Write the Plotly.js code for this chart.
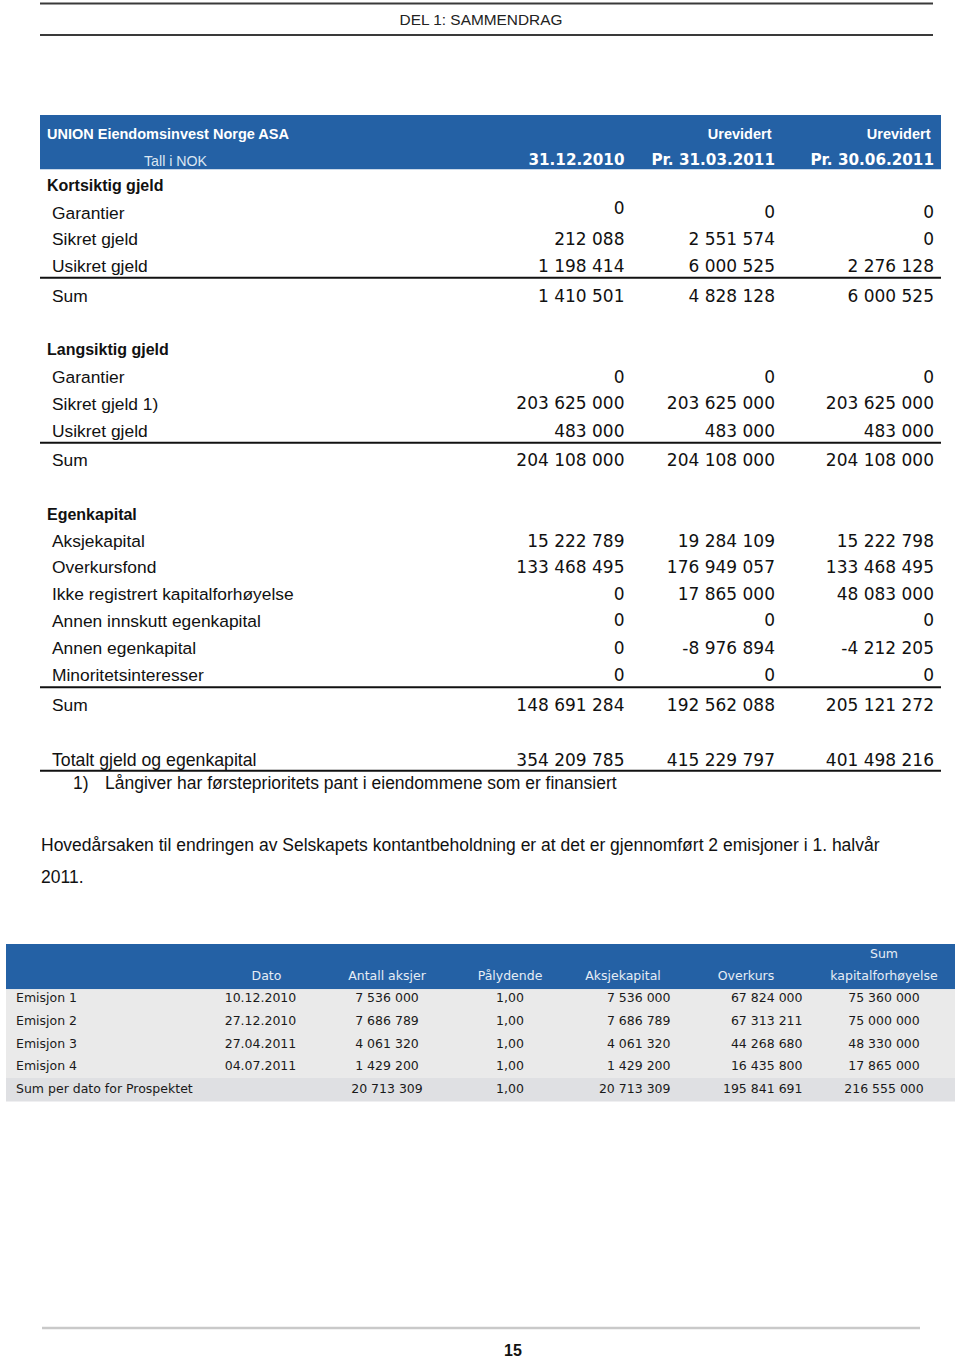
<!DOCTYPE html>
<html><head><meta charset="utf-8">
<script src="https://cdn.plot.ly/plotly-3.0.1.min.js"></script>
<style>html,body{margin:0;padding:0;background:#fff}#chart{width:960px;height:1360px}</style>
</head><body><div id="chart"></div>
<script>
// ---------------- DATA ----------------
const pageHeader = 'DEL 1: SAMMENDRAG';
const pageNumber = '15';
const companyName = 'UNION Eiendomsinvest Norge ASA';
const unitLabel = 'Tall i NOK';
const periodLabels = ['31.12.2010', 'Pr. 31.03.2011', 'Pr. 30.06.2011'];
const auditLabels = ['', 'Urevidert', 'Urevidert'];

const kortsiktigTitle = 'Kortsiktig gjeld';
const kortsiktigLabels = ['Garantier', 'Sikret gjeld', 'Usikret gjeld'];
const kortsiktigValues = [[0, 0, 0], [212088, 2551574, 0], [1198414, 6000525, 2276128]];
const kortsiktigSum = [1410501, 4828128, 6000525];

const langsiktigTitle = 'Langsiktig gjeld';
const langsiktigLabels = ['Garantier', 'Sikret gjeld 1)', 'Usikret gjeld'];
const langsiktigValues = [[0, 0, 0], [203625000, 203625000, 203625000], [483000, 483000, 483000]];
const langsiktigSum = [204108000, 204108000, 204108000];

const egenkapitalTitle = 'Egenkapital';
const egenkapitalLabels = ['Aksjekapital', 'Overkursfond', 'Ikke registrert kapitalforhøyelse',
  'Annen innskutt egenkapital', 'Annen egenkapital', 'Minoritetsinteresser'];
const egenkapitalValues = [[15222789, 19284109, 15222798], [133468495, 176949057, 133468495],
  [0, 17865000, 48083000], [0, 0, 0], [0, -8976894, -4212205], [0, 0, 0]];
const egenkapitalSum = [148691284, 192562088, 205121272];

const sumLabel = 'Sum';
const totalLabel = 'Totalt gjeld og egenkapital';
const totalValues = [354209785, 415229797, 401498216];
const footnoteMark = '1)';
const footnoteText = 'Långiver har førsteprioritets pant i eiendommene som er finansiert';
const paragraphLines = ['Hovedårsaken til endringen av Selskapets kontantbeholdning er at det er gjennomført 2 emisjoner i 1. halvår', '2011.'];

// Table 2
const emisjonHeaderTop = ['', '', '', '', '', 'Sum'];
const emisjonHeaderBottom = ['Dato', 'Antall aksjer', 'Pålydende', 'Aksjekapital', 'Overkurs', 'kapitalforhøyelse'];
const emisjonNames = ['Emisjon 1', 'Emisjon 2', 'Emisjon 3', 'Emisjon 4'];
const emisjonDates = ['10.12.2010', '27.12.2010', '27.04.2011', '04.07.2011'];
const antallAksjer = [7536000, 7686789, 4061320, 1429200];
const palydende = [1, 1, 1, 1];
const emisjonAksjekapital = [7536000, 7686789, 4061320, 1429200];
const overkurs = [67824000, 67313211, 44268680, 16435800];
const sumKapitalforhoyelse = [75360000, 75000000, 48330000, 17865000];
const sumRowLabel = 'Sum per dato for Prospektet';
const sumRowValues = [20713309, 1, 20713309, 195841691, 216555000];

// ---------------- FORMAT ----------------
const fmt = n => (n < 0 ? '-' : '') + Math.abs(n).toString().replace(/\B(?=(\d{3})+(?!\d))/g, ' ');
const fmtDec = n => n.toFixed(2).replace('.', ',');

// ---------------- LAYOUT POSITIONS ----------------
const LAB = 'Liberation Sans, Arial, sans-serif';
const LABB = 'Liberation Sans, Arial, sans-serif';
const NUM = 'DejaVu Sans, sans-serif';
const T2 = 'DejaVu Sans, Verdana, sans-serif';
const valueRight = [624.5, 775, 934];
const labelX = 52, sectionX = 47;
const blue = '#2461a5';
const LS = 17.4;

const traces = [];
const shapes = [];
function txt(xs, ys, texts, pos, family, size, color, weight) {
  traces.push({
    type: 'scatter', mode: 'text', x: xs, y: ys.map(y => y + 0.11 * size), text: texts,
    textposition: pos, cliponaxis: false, hoverinfo: 'skip',
    textfont: {family: family, size: size, color: color, weight: weight || 'normal'}
  });
}
function hline(x0, x1, y, color, w) {
  shapes.push({type: 'line', xref: 'x', yref: 'y', x0: x0, x1: x1, y0: y, y1: y, line: {color: color, width: w}});
}
function rect(x0, x1, y0, y1, color) {
  shapes.push({type: 'rect', xref: 'x', yref: 'y', x0: x0, x1: x1, y0: y0, y1: y1, fillcolor: color, line: {width: 0}, layer: 'below'});
}

// page header / footer
hline(40, 933, 3.5, '#3a3a3a', 2);
hline(40, 933, 35, '#3a3a3a', 2);
txt([481], [19.5], [pageHeader], 'middle center', LAB, 15.4, '#222');
hline(42, 920, 1328, '#c9c9c9', 2.5);
txt([513], [1350.5], [pageNumber], 'middle center', LABB, 16, '#111', 'bold');

// table 1 header
rect(40, 941, 115, 169.3, blue);
txt([47], [133.5], [companyName], 'middle right', LABB, 14.5, '#ffffff', 'bold');
txt(valueRight.map(v => v - 3.5), auditLabels.map(() => 133.7), auditLabels, 'middle left', LABB, 14.5, '#ffffff', 'bold');
txt([144], [160.5], [unitLabel], 'middle right', LAB, 14.2, '#dbe6f2');
txt(valueRight, periodLabels.map(() => 159.7), periodLabels, 'middle left', NUM, 15.2, '#ffffff', 'bold');

function section(title, titleY, labels, values, rowYs, lineY, sums, sumY, cellShift) {
  txt([sectionX], [titleY], [title], 'middle right', LABB, 16, '#111', 'bold');
  txt(labels.map(() => labelX), rowYs, labels, 'middle right', LAB, LS, '#111');
  for (let c = 0; c < 3; c++) {
    const ys = rowYs.map((y, r) => y + ((cellShift && cellShift[r] && cellShift[r][c]) || 0));
    txt(values.map(() => valueRight[c]), ys, values.map(r => fmt(r[c])), 'middle left', NUM, 17, '#111');
  }
  hline(40, 941, lineY, '#111', 2);
  txt([labelX], [sumY], [sumLabel], 'middle right', LAB, LS, '#111');
  txt(valueRight, sums.map(() => sumY), sums.map(fmt), 'middle left', NUM, 17, '#111');
}

section(kortsiktigTitle, 185, kortsiktigLabels, kortsiktigValues, [212.3, 238.8, 266], 277.7,
  kortsiktigSum, 296, [[-4.5, 0, 0]]);
section(langsiktigTitle, 349.7, langsiktigLabels, langsiktigValues, [376.7, 403.3, 430.5], 442.7,
  langsiktigSum, 459.8);
section(egenkapitalTitle, 514.2, egenkapitalLabels, egenkapitalValues,
  [540.8, 567.2, 593.7, 620.3, 647.8, 675], 687.3, egenkapitalSum, 704.5);

txt([labelX], [759.5], [totalLabel], 'middle right', LAB, 17.7, '#111');
txt(valueRight, totalValues.map(() => 759.5), totalValues.map(fmt), 'middle left', NUM, 17, '#111');
hline(40, 941, 770.7, '#111', 2);
txt([73], [782.5], [footnoteMark], 'middle right', LAB, 17.5, '#111');
txt([105], [782.5], [footnoteText], 'middle right', LAB, 17.5, '#111');
txt([41, 41], [845, 877], paragraphLines, 'middle right', LAB, 17.5, '#111');

// table 2
rect(6, 955, 944, 989.3, blue);
rect(6, 955, 989.3, 1078, '#eaeaea');
rect(6, 955, 1078, 1101.5, '#dfe0e3');
const headerX = [266.5, 387, 510, 623, 746, 884];
txt(headerX, headerX.map(() => 953.3), emisjonHeaderTop, 'middle center', T2, 12.5, '#e6edf5');
txt(headerX, headerX.map(() => 975.3), emisjonHeaderBottom, 'middle center', T2, 12.5, '#e6edf5');
const rowY2 = [997.7, 1020.3, 1043, 1065.7];
const sumY2 = 1088.3;
const dark = '#1a1a1a';
txt(emisjonNames.map(() => 16).concat([16]), rowY2.concat([sumY2]), emisjonNames.concat([sumRowLabel]), 'middle right', T2, 12.5, dark);
txt(emisjonDates.map(() => 260.5), rowY2, emisjonDates, 'middle center', T2, 12.5, dark);
txt(antallAksjer.map(() => 387).concat([387]), rowY2.concat([sumY2]), antallAksjer.concat([sumRowValues[0]]).map(fmt), 'middle center', T2, 12.5, dark);
txt(palydende.map(() => 510).concat([510]), rowY2.concat([sumY2]), palydende.concat([sumRowValues[1]]).map(fmtDec), 'middle center', T2, 12.5, dark);
txt(emisjonAksjekapital.map(() => 670.5).concat([670.5]), rowY2.concat([sumY2]), emisjonAksjekapital.concat([sumRowValues[2]]).map(fmt), 'middle left', T2, 12.5, dark);
txt(overkurs.map(() => 802.5).concat([802.5]), rowY2.concat([sumY2]), overkurs.concat([sumRowValues[3]]).map(fmt), 'middle left', T2, 12.5, dark);
txt(sumKapitalforhoyelse.map(() => 884).concat([884]), rowY2.concat([sumY2]), sumKapitalforhoyelse.concat([sumRowValues[4]]).map(fmt), 'middle center', T2, 12.5, dark);

const layout = {
  width: 960, height: 1360, margin: {l: 0, r: 0, t: 0, b: 0, pad: 0},
  paper_bgcolor: '#ffffff', plot_bgcolor: '#ffffff', showlegend: false,
  xaxis: {range: [0, 960], visible: false, fixedrange: true},
  yaxis: {range: [1360, 0], visible: false, fixedrange: true},
  shapes: shapes
};
Plotly.newPlot('chart', traces, layout, {displayModeBar: false, staticPlot: true});
</script>
</body></html>
